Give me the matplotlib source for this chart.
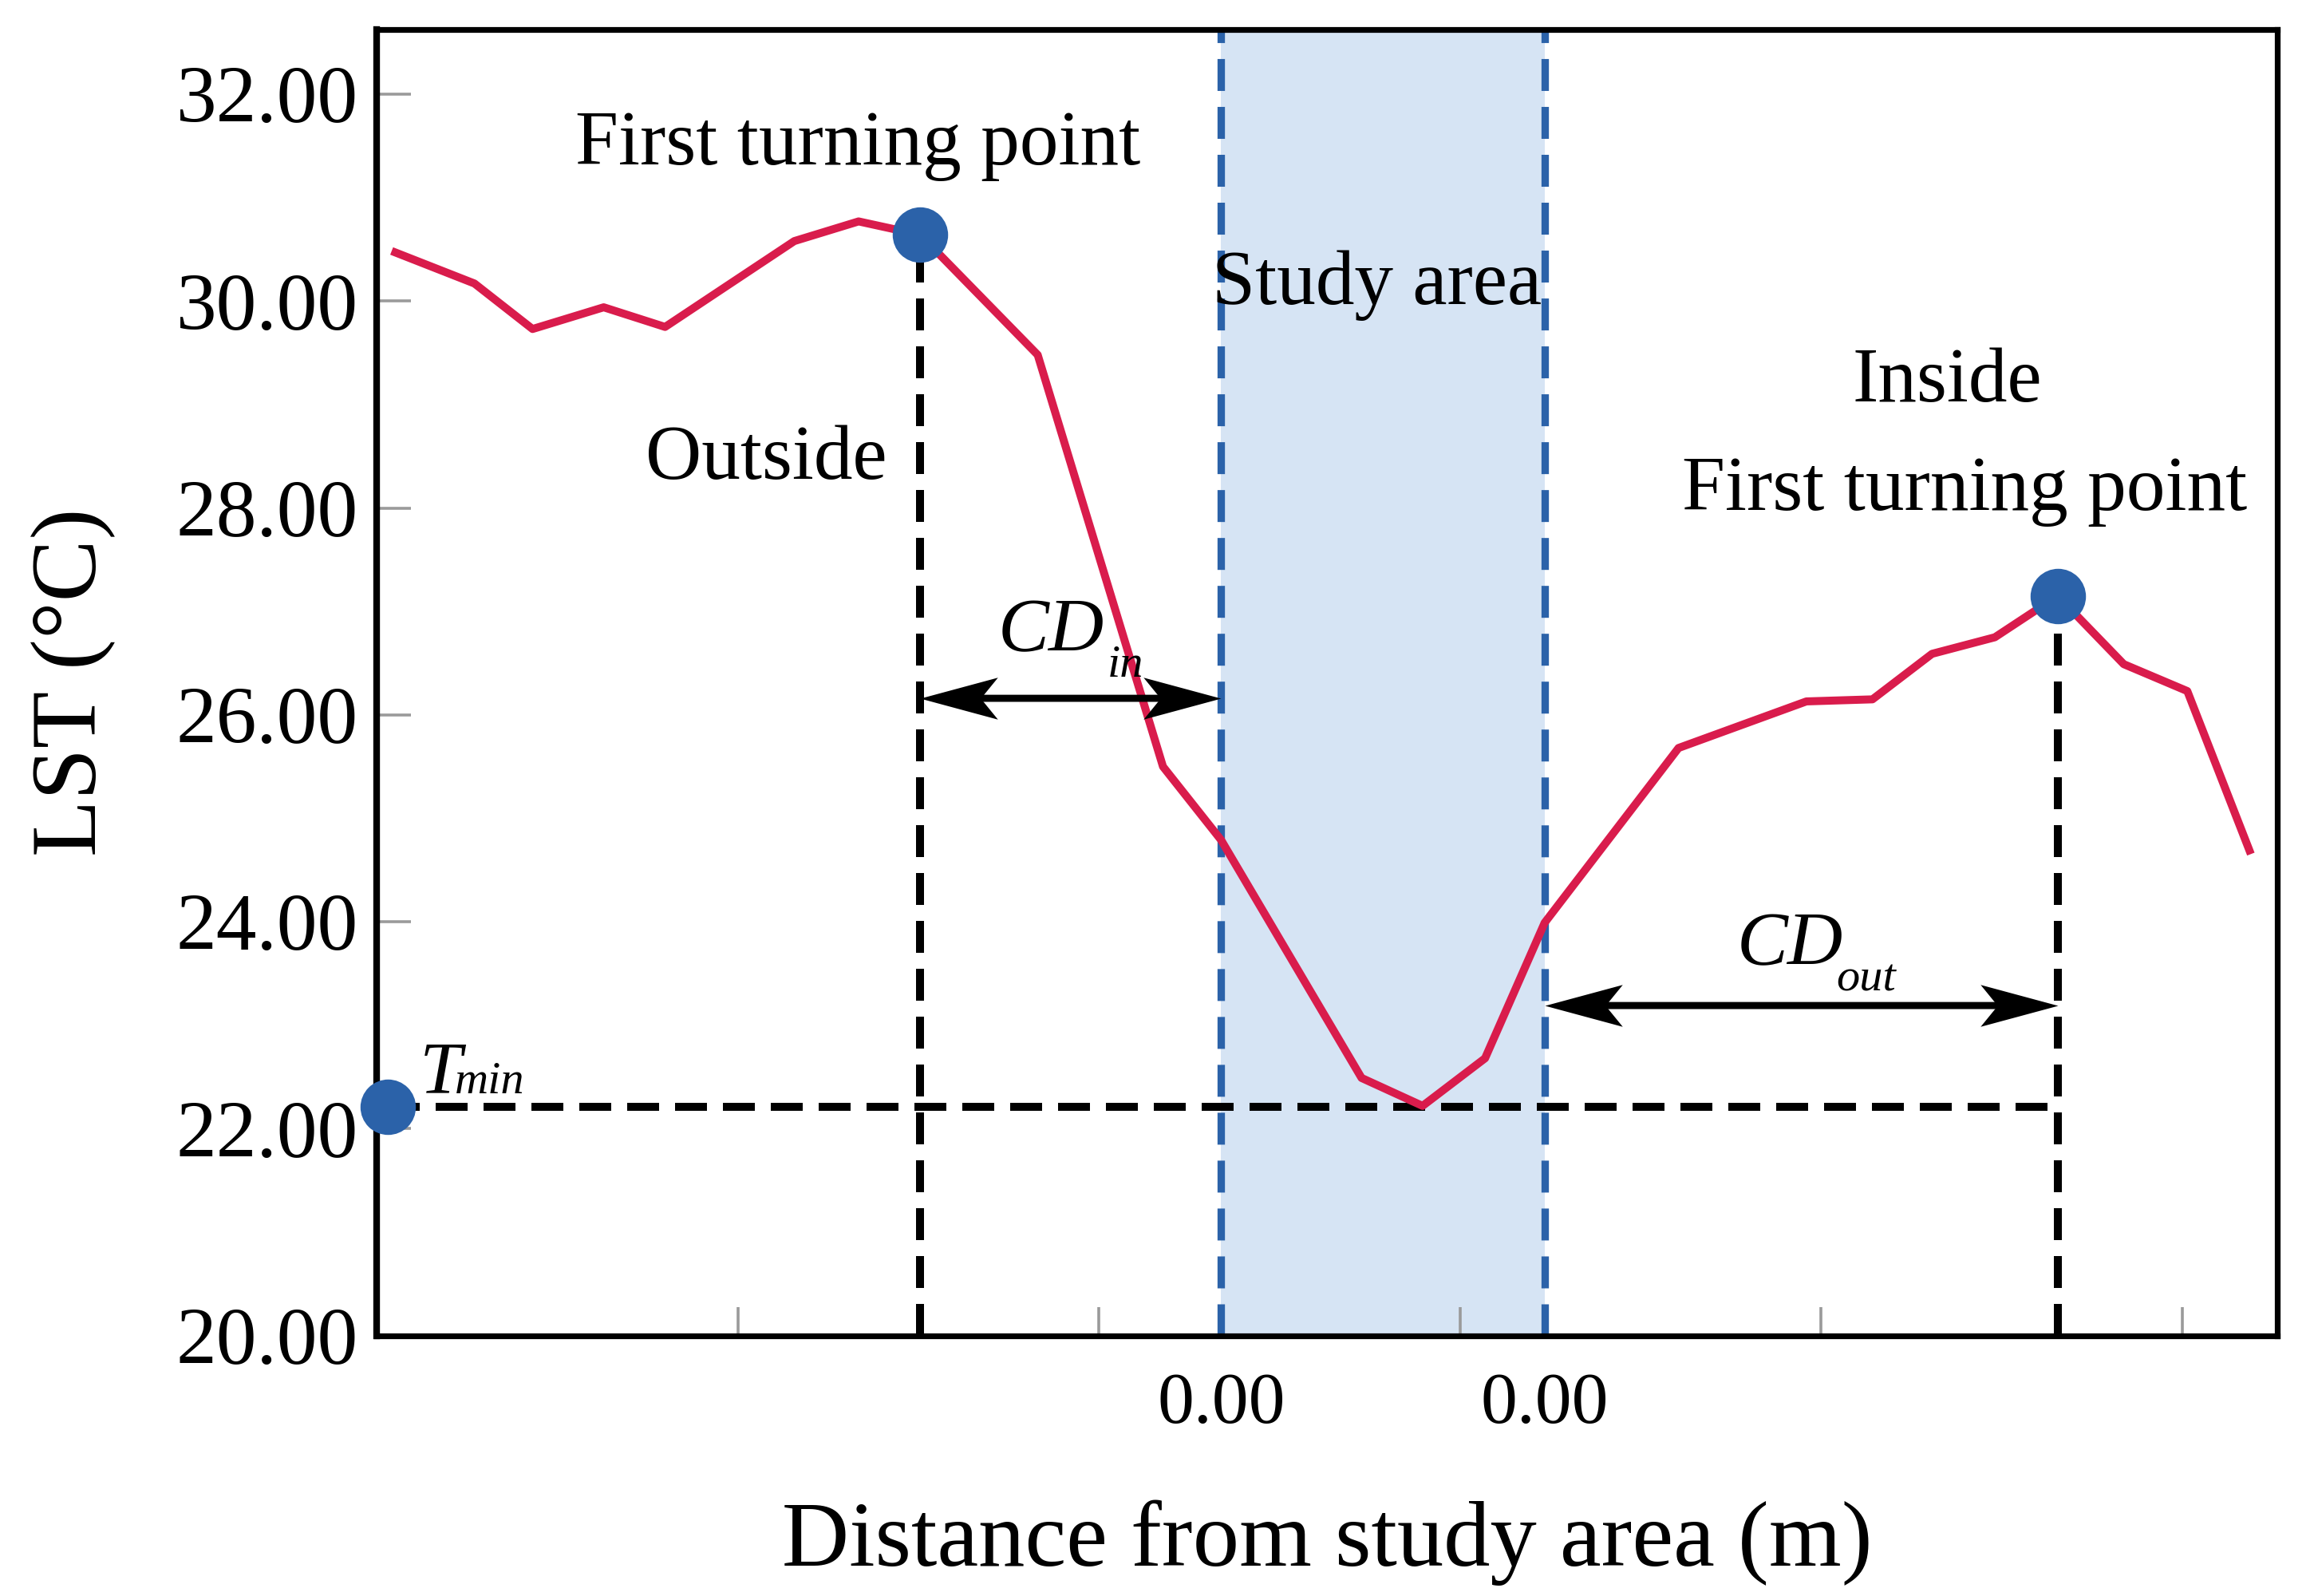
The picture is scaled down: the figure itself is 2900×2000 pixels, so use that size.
import matplotlib.pyplot as plt
from matplotlib.path import Path

plt.rcParams['font.family'] = ['Liberation Serif', 'DejaVu Serif']

# distance along the profile (arbitrary units, tick spacing = 1) and LST in deg C
dist = [0.051, 0.270, 0.431, 0.628, 0.798, 1.156, 1.334, 1.505, 1.830, 2.177,
        2.338, 2.727, 2.896, 3.069, 3.234, 3.605, 3.959, 4.142, 4.307, 4.481,
        4.655, 4.838, 5.014, 5.186]
lst = [30.47, 30.17, 29.73, 29.94, 29.75, 30.58, 30.77, 30.64, 29.48, 25.50,
       24.79, 22.49, 22.22, 22.68, 23.99, 25.68, 26.13, 26.15, 26.59, 26.75,
       27.15, 26.49, 26.23, 24.69]

study_edges = [2.338, 3.234]
turn_out = 7      # index of outside first turning point
turn_in = 20      # index of inside first turning point
t_min = 22.21
t_min_x = 0.03
cd_in_y = 26.16
cd_out_y = 23.19

y_ticks = [20, 22, 24, 26, 28, 30, 32]
x_minor = [1, 2, 3, 4, 5]

red = '#D91C4C'
blue = '#2B62A9'

# notched arrow heads (tip at the origin)
head_right = Path([(0, 0), (-1, 0.27), (-0.78, 0), (-1, -0.27), (0, 0)],
                  [Path.MOVETO, Path.LINETO, Path.LINETO, Path.LINETO, Path.CLOSEPOLY])
head_left = Path([(0, 0), (1, 0.27), (0.78, 0), (1, -0.27), (0, 0)],
                 [Path.MOVETO, Path.LINETO, Path.LINETO, Path.LINETO, Path.CLOSEPOLY])


def double_arrow(ax, x0, x1, y):
    ax.annotate('', xy=(x1, y), xytext=(x0, y),
                arrowprops=dict(arrowstyle='-', lw=3.2, color='black',
                                shrinkA=12, shrinkB=12), zorder=4)
    ax.plot([x0], [y], marker=head_left, ms=70, color='black', mec='none', zorder=4)
    ax.plot([x1], [y], marker=head_right, ms=70, color='black', mec='none', zorder=4)


fig = plt.figure(figsize=(14.5, 10), dpi=200)
ax = fig.add_axes([0.1629, 0.1632, 0.8212, 0.8183])

# study area band
ax.axvspan(study_edges[0], study_edges[1], color='#D6E4F4', lw=0, zorder=0)
for xe in study_edges:
    ax.axvline(xe, color=blue, lw=3.35, dashes=(4.3, 2.15), zorder=2)

# LST profile
ax.plot(dist, lst, color=red, lw=3.6, zorder=3)

# guide lines
for i in (turn_out, turn_in):
    ax.plot([dist[i], dist[i]], [y_ticks[0], lst[i]], color='black', lw=3.6,
            dashes=(4, 2), zorder=2)
ax.plot([t_min_x, dist[turn_in]], [t_min, t_min], color='black', lw=3.6,
        dashes=(4, 2), zorder=2)

# markers
ax.plot([dist[turn_out], dist[turn_in], t_min_x], [lst[turn_out], lst[turn_in], t_min],
        'o', ms=25, color=blue, mec='none', zorder=6, clip_on=False)

# cooling distance arrows
double_arrow(ax, dist[turn_out], study_edges[0], cd_in_y)
double_arrow(ax, study_edges[1], dist[turn_in], cd_out_y)

# annotations
fs = 35
ax.text(1.332, 31.32, 'First turning point', fontsize=fs, ha='center', va='baseline', zorder=7)
ax.text(2.770, 29.97, 'Study area', fontsize=fs, ha='center', va='baseline', zorder=7)
ax.text(1.079, 28.28, 'Outside', fontsize=fs, ha='center', va='baseline', zorder=7)
ax.text(4.350, 29.03, 'Inside', fontsize=fs, ha='center', va='baseline', zorder=7)
ax.text(4.398, 27.98, 'First turning point', fontsize=fs, ha='center', va='baseline', zorder=7)

ax.text(1.720, 26.61, 'CD', fontsize=34.5, style='italic', ha='left', va='baseline', zorder=7)
ax.text(2.023, 26.37, 'in', fontsize=21, style='italic', ha='left', va='baseline', zorder=7)
ax.text(3.766, 23.585, 'CD', fontsize=34.5, style='italic', ha='left', va='baseline', zorder=7)
ax.text(4.041, 23.33, 'out', fontsize=21, style='italic', ha='left', va='baseline', zorder=7)
ax.text(0.118, 22.35, 'T', fontsize=34, style='italic', ha='left', va='baseline', zorder=7)
ax.text(0.216, 22.34, 'min', fontsize=21, style='italic', ha='left', va='baseline', zorder=7)

# axes
ax.set_xlim(0, 5.263)
ax.set_ylim(20, 32.625)
ax.set_yticks(y_ticks)
ax.set_yticklabels([f'{v:.2f}' for v in y_ticks])
ax.tick_params(axis='y', direction='in', length=15.5, width=1.3, color='#9A9A9A',
               labelsize=36.5, pad=8.5)
ax.set_xticks(study_edges)
ax.set_xticklabels(['0.00', '0.00'])
ax.tick_params(axis='x', which='major', length=0, labelsize=33, pad=16.5)
ax.set_xticks(x_minor, minor=True)
ax.tick_params(axis='x', which='minor', direction='in', length=13, width=1.3,
               color='#9A9A9A')

ax.spines['left'].set_linewidth(3.0)
for side in ('top', 'right', 'bottom'):
    ax.spines[side].set_linewidth(2.6)

ax.set_ylabel('LST (°C)', fontsize=42)
ax.yaxis.set_label_coords(-0.138, 0.5)
ax.set_xlabel('Distance from study area (m)', fontsize=42)
ax.xaxis.set_label_coords(0.5, -0.1257)

fig.savefig('out.png', dpi=200)
